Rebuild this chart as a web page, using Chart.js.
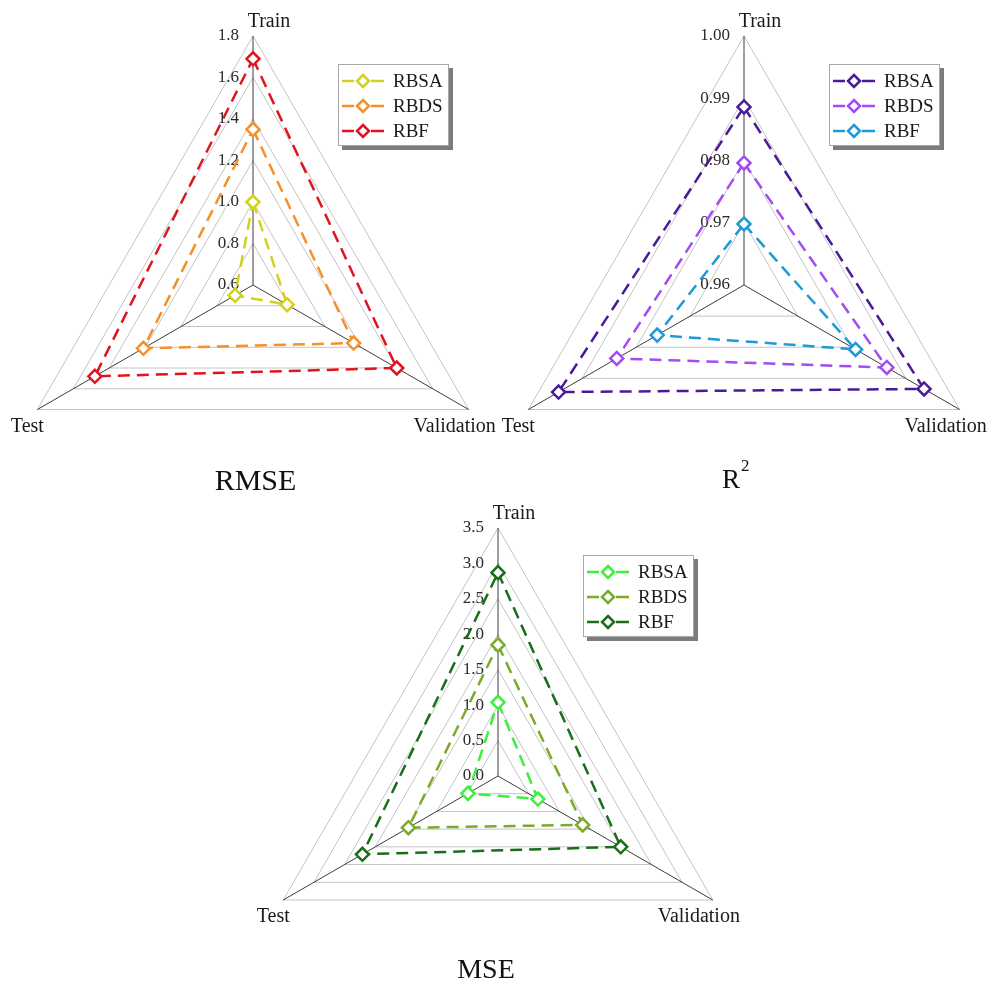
<!DOCTYPE html>
<html>
<head>
<meta charset="utf-8">
<script src="https://cdn.jsdelivr.net/npm/chart.js@4.4.0/dist/chart.umd.min.js"></script>
<style>
html, body { margin: 0; padding: 0; width: 990px; height: 986px; overflow: hidden; background: #ffffff; }
canvas { position: absolute; }
</style>
</head>
<body>
<canvas id="rmse" width="600" height="600"></canvas>
<canvas id="r2" width="600" height="600"></canvas>
<canvas id="mse" width="600" height="600"></canvas>
<script>
// ---------- data ----------
const axisLabels = ['Train', 'Validation', 'Test'];
const seriesNames = ['RBSA', 'RBDS', 'RBF'];

const rmseRBSA = [1.00, 0.79, 0.70];
const rmseRBDS = [1.35, 1.16, 1.21];
const rmseRBF  = [1.69, 1.40, 1.48];
const rmseTicks = ['0.6', '0.8', '1.0', '1.2', '1.4', '1.6', '1.8'];

const r2RBSA = [0.9886, 0.9934, 0.9944];
const r2RBDS = [0.9796, 0.9865, 0.9836];
const r2RBF  = [0.9698, 0.9807, 0.9761];
const r2Ticks = ['0.96', '0.97', '0.98', '0.99', '1.00'];

const mseRBSA = [1.04, 0.65, 0.49];
const mseRBDS = [1.85, 1.38, 1.46];
const mseRBF  = [2.87, 2.00, 2.21];
const mseTicks = ['0.0', '0.5', '1.0', '1.5', '2.0', '2.5', '3.0', '3.5'];

// ---------- styling / layout ----------
const SERIF = '"Liberation Serif", "Times New Roman", Times, serif';
const HALF = 300;

const panels = [
  { id: 'rmse', cx: 253, cy: 285, R: 249, ticks: rmseTicks, step: 0.2,
    series: [rmseRBSA, rmseRBDS, rmseRBF],
    colors: ['#d2d21e', '#f5902a', '#e0141e'],
    title: { text: 'RMSE', x: 2.5, y: 205, size: 30 } },
  { id: 'r2', cx: 744, cy: 285, R: 249, ticks: r2Ticks, step: 0.01,
    series: [r2RBSA, r2RBDS, r2RBF],
    colors: ['#4a1a99', '#a24cf2', '#1e9ad8'],
    title: { text: 'R', sup: '2', x: -4, y: 203, size: 27 } },
  { id: 'mse', cx: 498, cy: 776, R: 248, ticks: mseTicks, step: 0.5,
    series: [mseRBSA, mseRBDS, mseRBF],
    colors: ['#3cf03c', '#7aab2a', '#1a6e1a'],
    title: { text: 'MSE', x: -12, y: 202, size: 28 } }
];

const decorPlugin = {
  id: 'decor',
  beforeDatasetsDraw(chart, args, opts) {
    const sc = chart.scales.r;
    const ctx = chart.ctx;
    ctx.save();
    // tick labels (left of the vertical axis)
    ctx.font = '17px ' + SERIF;
    ctx.fillStyle = '#2a2a2a';
    ctx.textAlign = 'right';
    ctx.textBaseline = 'middle';
    opts.tickLabels.forEach(t => {
      const d = sc.getDistanceFromCenterForValue(parseFloat(t));
      ctx.fillText(t, sc.xCenter - 14, sc.yCenter - d);
    });
    // axis (point) labels
    ctx.font = '20px ' + SERIF;
    ctx.fillStyle = '#1a1a1a';
    ctx.textAlign = 'center';
    ctx.textBaseline = 'alphabetic';
    const offs = [[16, -9], [-14, 22], [-10, 22]];
    chart.data.labels.forEach((lab, i) => {
      const pt = sc.getPointPosition(i, sc.drawingArea);
      ctx.fillText(lab, pt.x + offs[i][0], pt.y + offs[i][1]);
    });
    ctx.restore();
  },
  afterDraw(chart, args, opts) {
    const sc = chart.scales.r;
    const ctx = chart.ctx;
    ctx.save();
    // legend box with shadow
    const bx = sc.xCenter + 85, by = sc.yCenter - 221, bw = 111, bh = 82;
    ctx.fillStyle = 'rgba(80,80,80,0.75)';
    ctx.fillRect(bx + 4, by + 4, bw, bh);
    ctx.fillStyle = '#ffffff';
    ctx.fillRect(bx, by, bw, bh);
    ctx.strokeStyle = '#a8a8a8';
    ctx.lineWidth = 1;
    ctx.strokeRect(bx + 0.5, by + 0.5, bw - 1, bh - 1);
    chart.data.datasets.forEach((ds, i) => {
      const y = by + 17 + i * 25;
      ctx.strokeStyle = ds.borderColor;
      ctx.lineWidth = 2.5;
      ctx.beginPath();
      ctx.moveTo(bx + 4, y); ctx.lineTo(bx + 16, y);
      ctx.moveTo(bx + 33, y); ctx.lineTo(bx + 46, y);
      ctx.stroke();
      const dx = bx + 25, r = 6;
      ctx.beginPath();
      ctx.moveTo(dx, y - r); ctx.lineTo(dx + r, y); ctx.lineTo(dx, y + r); ctx.lineTo(dx - r, y); ctx.closePath();
      ctx.fillStyle = '#ffffff';
      ctx.fill();
      ctx.stroke();
      ctx.fillStyle = '#1a1a1a';
      ctx.font = '19px ' + SERIF;
      ctx.textAlign = 'left';
      ctx.textBaseline = 'middle';
      ctx.fillText(ds.label, bx + 55, y + 1);
    });
    // title
    const t = opts.title;
    ctx.fillStyle = '#111111';
    ctx.textBaseline = 'alphabetic';
    ctx.font = t.size + 'px ' + SERIF;
    if (t.sup) {
      ctx.textAlign = 'right';
      ctx.fillText(t.text, sc.xCenter + t.x, sc.yCenter + t.y);
      ctx.font = '17px ' + SERIF;
      ctx.textAlign = 'left';
      ctx.fillText(t.sup, sc.xCenter + t.x + 1, sc.yCenter + t.y - 17);
    } else {
      ctx.textAlign = 'center';
      ctx.fillText(t.text, sc.xCenter + t.x, sc.yCenter + t.y);
    }
    ctx.restore();
  }
};

panels.forEach(p => {
  const cv = document.getElementById(p.id);
  cv.style.left = (p.cx - HALF) + 'px';
  cv.style.top = (p.cy - HALF) + 'px';
  const pad = HALF - p.R;
  const minV = parseFloat(p.ticks[0]);
  const maxV = parseFloat(p.ticks[p.ticks.length - 1]);
  new Chart(cv, {
    type: 'radar',
    data: {
      labels: axisLabels,
      datasets: p.series.map((s, i) => ({
        label: seriesNames[i],
        data: s,
        borderColor: p.colors[i],
        backgroundColor: p.colors[i],
        borderWidth: 2.5,
        borderDash: [12, 7],
        fill: false,
        tension: 0,
        pointStyle: 'rectRot',
        pointRadius: 6.5,
        pointHoverRadius: 6.5,
        pointBorderWidth: 2.5,
        pointBackgroundColor: '#ffffff',
        pointBorderColor: p.colors[i]
      }))
    },
    options: {
      responsive: false,
      animation: false,
      events: [],
      layout: { padding: pad },
      scales: {
        r: {
          min: minV,
          max: maxV,
          beginAtZero: false,
          ticks: { display: false, stepSize: p.step },
          grid: { color: '#c4c4c4', lineWidth: 1 },
          angleLines: { color: '#3c3c3c', lineWidth: 1 },
          pointLabels: { display: false }
        }
      },
      plugins: {
        legend: { display: false },
        tooltip: { enabled: false },
        decor: { tickLabels: p.ticks, title: p.title }
      }
    },
    plugins: [decorPlugin]
  });
});
</script>
</body>
</html>
